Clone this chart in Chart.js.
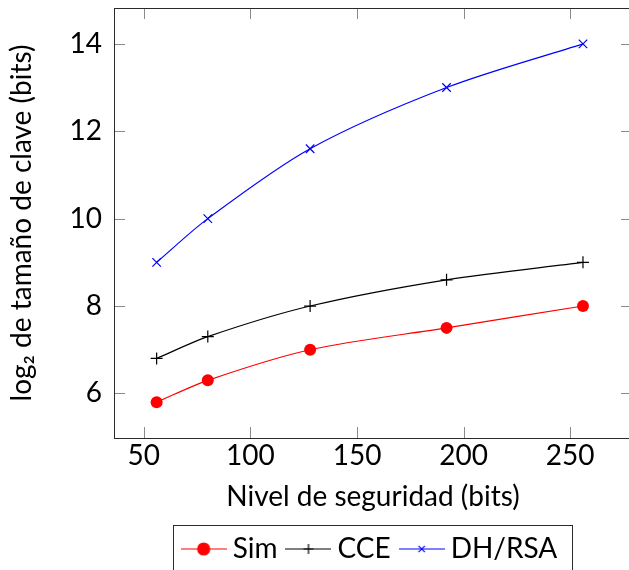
<!DOCTYPE html>
<html>
<head>
<meta charset="utf-8">
<script src="https://cdn.jsdelivr.net/npm/chart.js@4/dist/chart.umd.min.js"></script>
<style>
  html, body { margin: 0; padding: 0; background: #fff; }
  #wrap { width: 629px; height: 570px; overflow: hidden; }
</style>
</head>
<body>
<div id="wrap"><canvas id="chart" width="640" height="570"></canvas></div>
<script>
// values
const securityBits = [56, 80, 128, 192, 256];
const simValues = [5.8, 6.3, 7.0, 7.5, 8.0];
const cceValues = [6.8, 7.3, 8.0, 8.6, 9.0];
const dhRsaValues = [9.0, 10.0, 11.6, 13.0, 14.0];
const seriesNames = ['Sim', 'CCE', 'DH/RSA'];
const xTickValues = [50, 100, 150, 200, 250];
const yTickValues = [6, 8, 10, 12, 14];

const FONT = 'Lato, "DejaVu Sans", sans-serif';
const FS = 28;
const toPoints = ys => securityBits.map((x, i) => ({ x: x, y: ys[i] }));

// small line + marker pictures used as legend samples
function legendSample(color, style, radius) {
    const c = document.createElement('canvas');
    c.width = 46;
    c.height = 16;
    const g = c.getContext('2d');
    g.strokeStyle = color;
    g.fillStyle = color;
    g.lineWidth = 1.2;
    g.beginPath();
    g.moveTo(0, 8);
    g.lineTo(46, 8);
    g.stroke();
    Chart.helpers.drawPoint(g, { pointStyle: style, radius: radius, borderWidth: 1.2, rotation: 0 }, 23, 8);
    return c;
}

const samples = [
    legendSample('#ff0000', 'circle', 6),
    legendSample('#000000', 'cross', 5),
    legendSample('#0000ff', 'crossRot', 4.5)
];

// pgfplots style frame: box round the plot, ticks pointing inwards on all sides, boxed legend
const framePlugin = {
    id: 'frame',
    afterDraw(chart) {
        const { ctx, chartArea: a, scales } = chart;
        const L = 11;
        ctx.save();
        ctx.lineWidth = 1;
        ctx.strokeStyle = '#8a8a8a';
        ctx.beginPath();
        scales.x.ticks.forEach(t => {
            const px = Math.round(scales.x.getPixelForValue(t.value)) + 0.5;
            ctx.moveTo(px, a.bottom); ctx.lineTo(px, a.bottom - L);
            ctx.moveTo(px, a.top); ctx.lineTo(px, a.top + L);
        });
        scales.y.ticks.forEach(t => {
            const py = Math.round(scales.y.getPixelForValue(t.value)) + 0.5;
            ctx.moveTo(a.left, py); ctx.lineTo(a.left + L, py);
            ctx.moveTo(a.right, py); ctx.lineTo(a.right - L, py);
        });
        ctx.stroke();

        ctx.strokeStyle = '#2b2b2b';
        ctx.strokeRect(Math.round(a.left) + 0.5, Math.round(a.top) + 0.5,
            Math.round(a.width), Math.round(a.height));

        const hb = chart.legend.legendHitBoxes;
        if (hb && hb.length) {
            const first = hb[0], last = hb[hb.length - 1];
            const cy = first.top + first.height / 2;
            const x0 = Math.round(first.left - 16) + 0.5;
            const x1 = Math.round(last.left + last.width + 15) + 0.5;
            ctx.strokeRect(x0, Math.round(cy - 24) + 0.5, x1 - x0, 48);
        }
        ctx.restore();
    }
};

new Chart(document.getElementById('chart'), {
    type: 'line',
    data: {
        datasets: [
            {
                label: seriesNames[0],
                data: toPoints(simValues),
                borderColor: '#ff0000',
                backgroundColor: '#ff0000',
                borderWidth: 1.2,
                pointStyle: 'circle',
                pointRadius: 6,
                pointBorderWidth: 0,
                tension: 0.3
            },
            {
                label: seriesNames[1],
                data: toPoints(cceValues),
                borderColor: '#000000',
                backgroundColor: '#000000',
                borderWidth: 1.2,
                pointStyle: 'cross',
                pointRadius: 6,
                pointBorderWidth: 1.2,
                tension: 0.3
            },
            {
                label: seriesNames[2],
                data: toPoints(dhRsaValues),
                borderColor: '#0000ff',
                backgroundColor: '#0000ff',
                borderWidth: 1.2,
                pointStyle: 'crossRot',
                pointRadius: 6,
                pointBorderWidth: 1.2,
                tension: 0.3
            }
        ]
    },
    options: {
        responsive: false,
        animation: false,
        layout: { padding: { top: 8, right: 8, left: 0, bottom: -3 } },
        scales: {
            x: {
                type: 'linear',
                min: 36,
                max: 279,
                grid: { display: false, drawTicks: false },
                border: { display: false },
                afterBuildTicks: s => { s.ticks = xTickValues.map(v => ({ value: v })); },
                afterFit: s => { s.height = 81; s.paddingLeft = 0; s.paddingRight = 0; },
                ticks: { color: '#000', padding: 1, maxRotation: 0, font: { family: FONT, size: FS } },
                title: {
                    display: true,
                    text: 'Nivel de seguridad (bits)',
                    color: '#000',
                    padding: { top: 0, bottom: 5 },
                    font: { family: FONT, size: FS }
                }
            },
            y: {
                type: 'linear',
                min: 4.98,
                max: 14.82,
                grid: { display: false, drawTicks: false },
                border: { display: false },
                afterBuildTicks: s => { s.ticks = yTickValues.map(v => ({ value: v })); },
                afterFit: s => { s.width = 114; s.paddingTop = 0; s.paddingBottom = 0; },
                ticks: { color: '#000', padding: 12, font: { family: FONT, size: FS } },
                title: {
                    display: true,
                    text: 'log₂ de tamaño de clave (bits)',
                    color: '#000',
                    padding: { top: 5, bottom: 0 },
                    font: { family: FONT, size: FS }
                }
            }
        },
        plugins: {
            tooltip: { enabled: false },
            legend: {
                position: 'bottom',
                fullSize: false,
                labels: {
                    usePointStyle: true,
                    pointStyleWidth: 30,
                    padding: 16,
                    color: '#000',
                    font: { family: FONT, size: FS },
                    generateLabels(chart) {
                        const items = Chart.defaults.plugins.legend.labels.generateLabels(chart);
                        items.forEach((it, i) => { it.pointStyle = samples[i]; });
                        return items;
                    }
                }
            }
        }
    },
    plugins: [framePlugin]
});
</script>
</body>
</html>
